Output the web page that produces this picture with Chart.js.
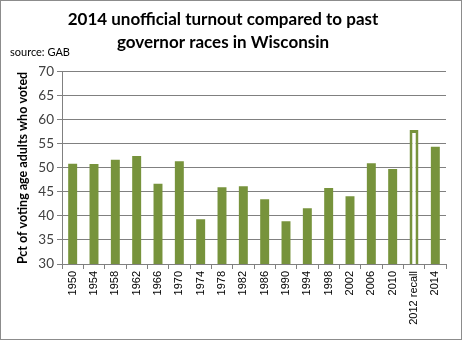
<!DOCTYPE html>
<html>
<head>
<meta charset="utf-8">
<script src="https://cdn.jsdelivr.net/npm/chart.js@4.4.1/dist/chart.umd.min.js"></script>
<style>
  body { margin: 0; background: #fff; }
  #wrap { width: 462px; height: 340px; }
</style>
</head>
<body>
<div id="wrap"><canvas id="turnout" width="462" height="340"></canvas></div>
<script>
// governor race years and turnout (pct of voting age adults)
const years = ["1950", "1954", "1958", "1962", "1966", "1970", "1974", "1978", "1982", "1986",
  "1990", "1994", "1998", "2002", "2006", "2010", "2012 recall", "2014"];
const turnout = [50.9, 50.8, 51.7, 52.5, 46.7, 51.4, 39.3, 46.0, 46.2, 43.5,
  38.9, 41.6, 45.8, 44.1, 51.0, 49.8, 57.9, 54.4];
const recallIndex = 16;
const yTicks = [30, 35, 40, 45, 50, 55, 60, 65, 70];

const green = "#77933c";
const gray = "#808080";

// white page, thin frame and the source note
const frame = {
  id: "frame",
  beforeDraw(chart) {
    const c = chart.ctx;
    c.save();
    c.fillStyle = "#fff";
    c.fillRect(0, 0, chart.width, chart.height);
    c.strokeStyle = "#8c8c8c";
    c.lineWidth = 1;
    c.strokeRect(0.5, 0.5, chart.width - 1, chart.height - 1);
    c.restore();
  },
  afterDraw(chart) {
    const c = chart.ctx;
    c.save();
    c.fillStyle = "#000";
    c.font = "11px Lato";
    c.textBaseline = "middle";
    c.fillText("source: GAB", 10, 52);
    c.restore();
  }
};

new Chart(document.getElementById("turnout"), {
  type: "bar",
  data: {
    labels: years,
    datasets: [{
      data: turnout,
      backgroundColor: turnout.map((v, i) => i === recallIndex ? "#fff" : green),
      borderColor: green,
      borderWidth: turnout.map((v, i) => i === recallIndex ? 3 : 0),
      borderSkipped: false,
      barPercentage: 0.42,
      categoryPercentage: 1
    }]
  },
  options: {
    responsive: false,
    animation: false,
    devicePixelRatio: 1,
    layout: { padding: { left: 0, right: 16, top: 0, bottom: 0 } },
    plugins: {
      legend: { display: false },
      tooltip: { enabled: false },
      title: {
        display: true,
        text: ["2014 unofficial turnout compared to past", "governor races in Wisconsin"],
        color: "#000",
        font: { family: "Lato", size: 17, weight: "bold", lineHeight: 1.35 },
        padding: { top: 8, bottom: 18 }
      }
    },
    scales: {
      x: {
        grid: { display: true, drawOnChartArea: false, color: gray, tickLength: 5, offset: true },
        border: { color: gray },
        ticks: {
          color: "#000",
          font: { family: "Liberation Sans", size: 11 },
          maxRotation: 90,
          minRotation: 90,
          autoSkip: false,
          padding: 2
        },
        afterFit(scale) { scale.height = 76; }
      },
      y: {
        min: 30,
        max: 70,
        afterBuildTicks(scale) { scale.ticks = yTicks.map(v => ({ value: v })); },
        grid: { color: gray, tickLength: 5 },
        border: { color: gray },
        ticks: {
          color: "#404040",
          font: { family: "Lato", size: 13.5 },
          padding: 3
        },
        title: {
          display: true,
          text: "Pct of voting age adults who voted",
          color: "#000",
          font: { family: "Lato", size: 12.5, weight: "bold" },
          padding: { top: 15, bottom: 0 }
        },
        afterFit(scale) { scale.width = 62; }
      }
    }
  },
  plugins: [frame]
});
</script>
</body>
</html>
